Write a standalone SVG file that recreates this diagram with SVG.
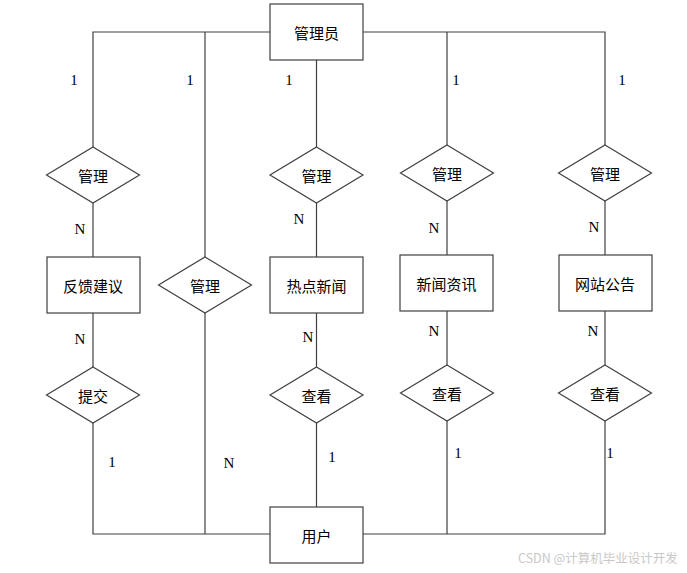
<svg xmlns="http://www.w3.org/2000/svg" width="687" height="573" viewBox="0 0 687 573">
<style>
.sh{fill:#fff;stroke:#404040;stroke-width:1.2}
.ln{fill:none;stroke:#404040;stroke-width:1.2}
.t{font-family:"Noto Sans CJK SC","Noto Sans",sans-serif;font-size:15px;fill:#000;text-anchor:middle;dominant-baseline:central}
.c{font-family:"Liberation Serif",serif;font-size:15px;fill:#000;text-anchor:middle;dominant-baseline:central}
.w{font-family:"Noto Sans CJK SC","Noto Sans",sans-serif;font-size:12.5px;fill:#c8c8c8}
</style>
<rect width="687" height="573" fill="#fff"/>
<g id="connectors">
<polyline class="ln" points="270,32 93,32 93,147"/>
<line class="ln" x1="205" y1="32" x2="205" y2="257"/>
<polyline class="ln" points="363,32 605,32 605,145"/>
<line class="ln" x1="447" y1="32" x2="447" y2="145"/>
<line class="ln" x1="316.5" y1="60" x2="316.5" y2="147"/>
<line class="ln" x1="93" y1="203" x2="93" y2="257"/>
<line class="ln" x1="93" y1="313" x2="93" y2="367"/>
<polyline class="ln" points="93,423 93,534 270,534"/>
<line class="ln" x1="205" y1="313" x2="205" y2="534"/>
<line class="ln" x1="316.5" y1="203" x2="316.5" y2="257"/>
<line class="ln" x1="316.5" y1="313" x2="316.5" y2="367"/>
<line class="ln" x1="316.5" y1="423" x2="316.5" y2="507"/>
<line class="ln" x1="447" y1="201" x2="447" y2="255"/>
<line class="ln" x1="447" y1="311" x2="447" y2="365"/>
<polyline class="ln" points="363,534 605,534 605,421"/>
<line class="ln" x1="447" y1="421" x2="447" y2="534"/>
<line class="ln" x1="605" y1="201" x2="605" y2="255"/>
<line class="ln" x1="605" y1="311" x2="605" y2="365"/>
</g>
<g id="admin"><rect class="sh" x="270" y="4" width="93" height="56"/><text class="t" x="316.5" y="32">管理员</text></g>
<g id="user"><rect class="sh" x="270" y="507" width="93" height="56"/><text class="t" x="316.5" y="535">用户</text></g>
<g id="feedback"><rect class="sh" x="47" y="257" width="93" height="56"/><text class="t" x="93" y="285">反馈建议</text></g>
<g id="hotnews"><rect class="sh" x="270" y="257" width="93" height="56"/><text class="t" x="316.5" y="285">热点新闻</text></g>
<g id="newsinfo"><rect class="sh" x="400" y="255" width="93" height="56"/><text class="t" x="446.5" y="283">新闻资讯</text></g>
<g id="notice"><rect class="sh" x="559" y="255" width="93" height="56"/><text class="t" x="605" y="283">网站公告</text></g>
<g id="r1"><polygon class="sh" points="93,147 139.5,175 93,203 46.5,175"/><text class="t" x="93" y="175">管理</text></g>
<g id="r2"><polygon class="sh" points="205,257 251.5,285 205,313 158.5,285"/><text class="t" x="205" y="285">管理</text></g>
<g id="r3"><polygon class="sh" points="316.5,147 363,175 316.5,203 270,175"/><text class="t" x="316.5" y="175">管理</text></g>
<g id="r4"><polygon class="sh" points="447,145 493.5,173 447,201 400.5,173"/><text class="t" x="447" y="173">管理</text></g>
<g id="r5"><polygon class="sh" points="605,145 651.5,173 605,201 558.5,173"/><text class="t" x="605" y="173">管理</text></g>
<g id="r6"><polygon class="sh" points="93,367 139.5,395 93,423 46.5,395"/><text class="t" x="93" y="395">提交</text></g>
<g id="r7"><polygon class="sh" points="316.5,367 363,395 316.5,423 270,395"/><text class="t" x="316.5" y="395">查看</text></g>
<g id="r8"><polygon class="sh" points="447,365 493.5,393 447,421 400.5,393"/><text class="t" x="447" y="393">查看</text></g>
<g id="r9"><polygon class="sh" points="605,365 651.5,393 605,421 558.5,393"/><text class="t" x="605" y="393">查看</text></g>
<g id="labels">
<text class="c" x="74" y="80">1</text>
<text class="c" x="190" y="80">1</text>
<text class="c" x="289" y="80">1</text>
<text class="c" x="456" y="80">1</text>
<text class="c" x="622" y="80">1</text>
<text class="c" x="80" y="229">N</text>
<text class="c" x="299" y="219">N</text>
<text class="c" x="434" y="228">N</text>
<text class="c" x="594" y="227">N</text>
<text class="c" x="80" y="339">N</text>
<text class="c" x="308" y="337">N</text>
<text class="c" x="434" y="331">N</text>
<text class="c" x="593" y="331">N</text>
<text class="c" x="112" y="462">1</text>
<text class="c" x="229" y="463">N</text>
<text class="c" x="332" y="457">1</text>
<text class="c" x="458" y="453">1</text>
<text class="c" x="610" y="453">1</text>
</g>
<text class="w" x="518" y="563">CSDN @计算机毕业设计开发</text>
</svg>
